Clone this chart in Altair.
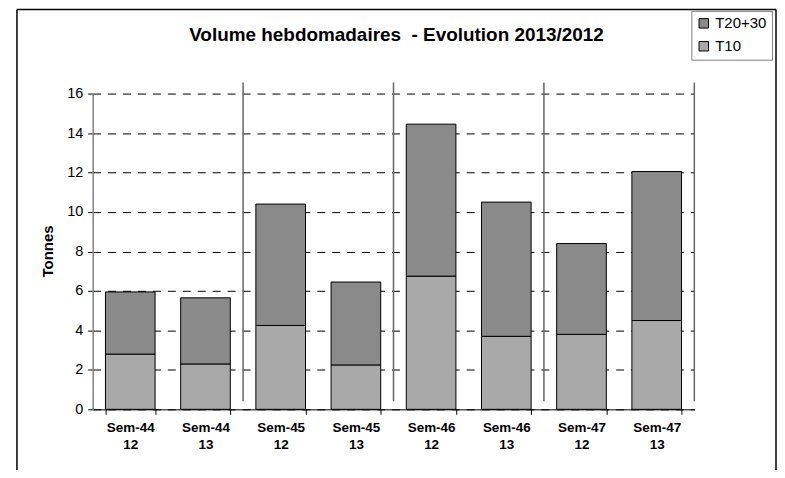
import altair as alt
import pandas as pd

# ---- data ----
weeks = ["Sem-44|12", "Sem-44|13", "Sem-45|12", "Sem-45|13",
         "Sem-46|12", "Sem-46|13", "Sem-47|12", "Sem-47|13"]
t10 = [2.8, 2.3, 4.25, 2.25, 6.75, 3.7, 3.8, 4.5]
t20_30 = [3.15, 3.35, 6.15, 4.2, 7.7, 6.8, 4.6, 7.55]
series = ["T20+30", "T10"]
series_colors = ["#8a8a8a", "#a9a9a9"]
y_ticks = [0, 2, 4, 6, 8, 10, 12, 14, 16]
separators = ["Sem-45|12", "Sem-46|12", "Sem-47|12"]
title_text = ["Volume hebdomadaires \u00a0- Evolution 2013/2012"]
y_title = "Tonnes"

rows = []
for w, a, b in zip(weeks, t10, t20_30):
    rows.append({"week": w, "serie": "T10", "val": a, "ord": 0})
    rows.append({"week": w, "serie": "T20+30", "val": b, "ord": 1})
df = pd.DataFrame(rows)
sep_df = pd.DataFrame({"week": separators})
one = pd.DataFrame({"k": [0]})
title_df = pd.DataFrame({"t": title_text})

W, H = 604, 317
step = W / len(weeks)
FONT = "Liberation Sans"

xscale = alt.Scale(domain=weeks, paddingInner=0.34, paddingOuter=0.17)
yscale = alt.Scale(domain=[0, 16], nice=False)

xaxis = alt.Axis(title=None, labelExpr="split(datum.label, '|')", labelAngle=0,
                 labelFont=FONT, labelFontSize=13.5, labelFontWeight="bold",
                 labelColor="black", labelPadding=6, labelLineHeight=17,
                 labelBaseline="top", tickBand="extent", tickColor="black",
                 tickSize=5, domainColor="black", domainWidth=1, grid=False)
yaxis = alt.Axis(title=y_title, values=y_ticks, grid=True, gridDash=[8, 7],
                 gridColor="black", gridWidth=1, gridOpacity=1,
                 domainColor="#808080", domainWidth=1.5, tickColor="black",
                 tickSize=5, labelFont=FONT, labelFontSize=14.5,
                 labelColor="black", labelPadding=5, titleFont=FONT,
                 titleFontSize=15, titleFontWeight="bold", titleColor="black",
                 titleX=-45, titleY=158, titleAlign="center",
                 titleBaseline="middle")

xenc = alt.X("week:N", scale=xscale, axis=xaxis)

bars = alt.Chart(df).mark_bar(stroke="black", strokeWidth=1).encode(
    x=xenc,
    y=alt.Y("val:Q", stack="zero", scale=yscale, axis=yaxis),
    color=alt.Color("serie:N", scale=alt.Scale(domain=series, range=series_colors),
                    legend=alt.Legend(title=None, orient="none", legendX=601,
                                      legendY=-83, direction="vertical",
                                      symbolType="square", symbolSize=90,
                                      symbolStrokeColor="black",
                                      symbolStrokeWidth=1, symbolOpacity=1,
                                      labelFont=FONT, labelFontSize=15,
                                      labelColor="black", labelOffset=4,
                                      strokeColor="#808080", fillColor="white",
                                      padding=5, rowPadding=7)),
    order=alt.Order("ord:Q"),
)

seps = alt.Chart(sep_df).mark_rule(xOffset=-step / 2, color="#666666",
                                   strokeWidth=1.5).encode(
    x=xenc, y=alt.value(-11), y2=alt.value(309))

edge = alt.Chart(one).mark_rule(color="#666666", strokeWidth=1.5).encode(
    x=alt.value(W), y=alt.value(-11), y2=alt.value(309))

frame_top = alt.Chart(one).mark_rule(color="black", strokeWidth=1.5).encode(
    x=alt.value(-76), x2=alt.value(686), y=alt.value(-84.5))
frame_left = alt.Chart(one).mark_rule(color="black", strokeWidth=1.5).encode(
    x=alt.value(-76), y=alt.value(-84.5), y2=alt.value(420))
frame_right = alt.Chart(one).mark_rule(color="black", strokeWidth=1.5).encode(
    x=alt.value(686), y=alt.value(-84.5), y2=alt.value(420))

title = alt.Chart(title_df).mark_text(font=FONT, fontSize=19, fontWeight="bold",
                                      align="center", baseline="middle",
                                      color="black").encode(
    text="t:N", x=alt.value(305), y=alt.value(-59))

chart = alt.layer(frame_top, frame_left, frame_right, bars, seps, edge, title).properties(
    width=W, height=H, autosize="none",
    padding={"left": 85, "top": 85, "right": 83, "bottom": 60},
).configure_view(strokeWidth=0)

chart.save("out.html", embed_options={"renderer": "svg", "actions": False})
